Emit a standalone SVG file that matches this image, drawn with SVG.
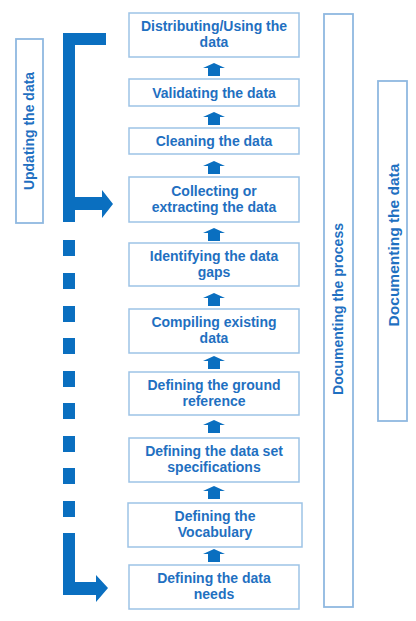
<svg xmlns="http://www.w3.org/2000/svg" width="416" height="621" viewBox="0 0 416 621">
<style>
.box{fill:#ffffff;stroke:#9dc3e6;stroke-width:1.5}
.side{fill:#ffffff;stroke:#8fb8e0;stroke-width:1.8}
.t{font-family:"Liberation Sans",Arial,sans-serif;font-weight:bold;font-size:14px;fill:#1f70c1;text-anchor:middle}
.blue{fill:#0a6fc0}
</style>
<defs>
<polygon id="up" class="blue" points="-11,5 0,0 11,5 6,5 6,13 -6,13 -6,5"/>
</defs>
<rect width="416" height="621" fill="#ffffff"/>

<g id="connectors">
<use href="#up" x="214" y="63"/>
<use href="#up" x="214" y="112"/>
<use href="#up" x="214" y="161"/>
<use href="#up" x="214" y="228"/>
<use href="#up" x="214" y="293"/>
<use href="#up" x="214" y="356"/>
<use href="#up" x="214" y="420"/>
<use href="#up" x="214" y="486"/>
<use href="#up" x="214" y="549"/>
<polygon class="blue" points="63,33 106,33 106,45 75,45 75,197 102,197 102,190 113,204 102,218 102,210 75,210 75,222 63,222"/>
<g class="blue">
<rect x="63" y="240" width="12" height="16"/>
<rect x="63" y="273" width="12" height="16"/>
<rect x="63" y="306" width="12" height="16"/>
<rect x="63" y="338" width="12" height="16"/>
<rect x="63" y="371" width="12" height="16"/>
<rect x="63" y="403" width="12" height="16"/>
<rect x="63" y="436" width="12" height="16"/>
<rect x="63" y="468" width="12" height="16"/>
<rect x="63" y="501" width="12" height="16"/>
</g>
<polygon class="blue" points="63,533 75,533 75,582 96,582 96,575 108,588 96,602 96,595 63,595"/>
</g>

<g id="n1"><rect class="box" x="129" y="13" width="170" height="44"/><text class="t" x="214" y="31">Distributing/Using the</text><text class="t" x="214" y="47">data</text></g>
<g id="n2"><rect class="box" x="129" y="79" width="170" height="27"/><text class="t" x="214" y="97.5">Validating the data</text></g>
<g id="n3"><rect class="box" x="129" y="128" width="170" height="26"/><text class="t" x="214" y="146">Cleaning the data</text></g>
<g id="n4"><rect class="box" x="129" y="177" width="170" height="45"/><text class="t" x="214" y="195.5">Collecting or</text><text class="t" x="214" y="211.5">extracting the data</text></g>
<g id="n5"><rect class="box" x="129" y="243" width="170" height="43"/><text class="t" x="214" y="260.5">Identifying the data</text><text class="t" x="214" y="276.5">gaps</text></g>
<g id="n6"><rect class="box" x="129" y="309" width="170" height="44"/><text class="t" x="214" y="327">Compiling existing</text><text class="t" x="214" y="343">data</text></g>
<g id="n7"><rect class="box" x="129" y="372" width="170" height="43"/><text class="t" x="214" y="389.5">Defining the ground</text><text class="t" x="214" y="405.5">reference</text></g>
<g id="n8"><rect class="box" x="129" y="438" width="170" height="44"/><text class="t" x="214" y="456">Defining the data set</text><text class="t" x="214" y="472">specifications</text></g>
<g id="n9"><rect class="box" x="128" y="503" width="174" height="44"/><text class="t" x="215" y="521">Defining the</text><text class="t" x="215" y="537">Vocabulary</text></g>
<g id="n10"><rect class="box" x="129" y="565" width="170" height="44"/><text class="t" x="214" y="583">Defining the data</text><text class="t" x="214" y="599">needs</text></g>

<g id="updating"><rect class="side" x="16" y="39" width="27" height="184"/><text class="t" transform="translate(34,131) rotate(-90)">Updating the data</text></g>
<g id="docprocess"><rect class="side" x="324" y="14" width="29" height="593"/><text class="t" transform="translate(343,309) rotate(-90)">Documenting the process</text></g>
<g id="docdata"><rect class="side" x="378" y="81" width="29" height="340"/><text class="t" style="font-size:15.5px" transform="translate(399,245) rotate(-90)">Documenting the data</text></g>
</svg>
